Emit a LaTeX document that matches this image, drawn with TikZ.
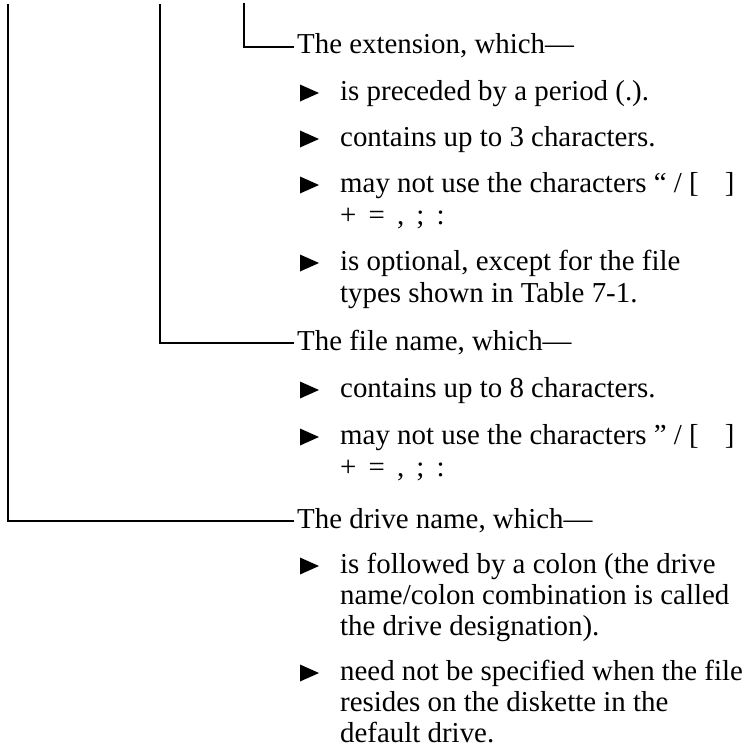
\documentclass[tikz,border=0pt]{standalone}
\usepackage{fontspec}
\setmainfont{Liberation Serif}
\newcommand\symgap{\hspace{0.42em}}
\begin{document}
\begin{tikzpicture}[x=1bp,y=-1bp,
  conn/.style={line width=2.5bp},
  hdr/.style={anchor=base west,inner xsep=3bp,inner ysep=0pt,text height=14bp,text depth=0pt,font=\fontsize{29}{32}\selectfont},
  txt/.style={anchor=base west,inner sep=0pt,font=\fontsize{29}{32}\selectfont},
  tri/.pic={\fill (0,-8.5) -- (19,0) -- (0,8.5) -- cycle;}]
\useasboundingbox (0,0) rectangle (747,749);
% top ends of the three brackets
\coordinate (t1) at (8,4);
\coordinate (t2) at (160,4);
\coordinate (t3) at (244,3);
% extension
\node[hdr] (ext) at (294,54) {The extension, which—};
\pic at (300,93) {tri}; \node[txt] (e1) at (340,100) {is preceded by a period (.).};
\pic at (300,139) {tri}; \node[txt] (e2) at (340,146) {contains up to 3 characters.};
\pic at (300,185) {tri}; \node[txt] (e3) at (340,192) {may not use the characters “ / [\hspace{0.9em}]};
\node[txt] (e3b) at (340,224) {+\symgap=\symgap,\symgap;\symgap:};
\pic at (300,263) {tri}; \node[txt] (e4) at (340,270) {is optional, except for the file};
\node[txt] (e4b) at (340,302) {types shown in Table 7-1.};
% file name
\node[hdr] (fname) at (294,350) {The file name, which—};
\pic at (300,390) {tri}; \node[txt] (f1) at (340,397) {contains up to 8 characters.};
\pic at (300,437) {tri}; \node[txt] (f2) at (340,444) {may not use the characters ” / [\hspace{0.9em}]};
\node[txt] (f2b) at (340,476) {+\symgap=\symgap,\symgap;\symgap:};
% drive name
\node[hdr] (drive) at (294,528) {The drive name, which—};
\pic at (300,566) {tri}; \node[txt] (d1) at (340,573) {is followed by a colon (the drive};
\node[txt] (d1b) at (340,604) {name/colon combination is called};
\node[txt] (d1c) at (340,635) {the drive designation).};
\pic at (300,673) {tri}; \node[txt] (d2) at (340,680) {need not be specified when the file};
\node[txt] (d2b) at (340,711) {resides on the diskette in the};
\node[txt] (d2c) at (340,742) {default drive.};
% brackets
\draw[conn] (t3) |- (ext.west);
\draw[conn] (t2) |- (fname.west);
\draw[conn] (t1) |- (drive.west);
\end{tikzpicture}
\end{document}
